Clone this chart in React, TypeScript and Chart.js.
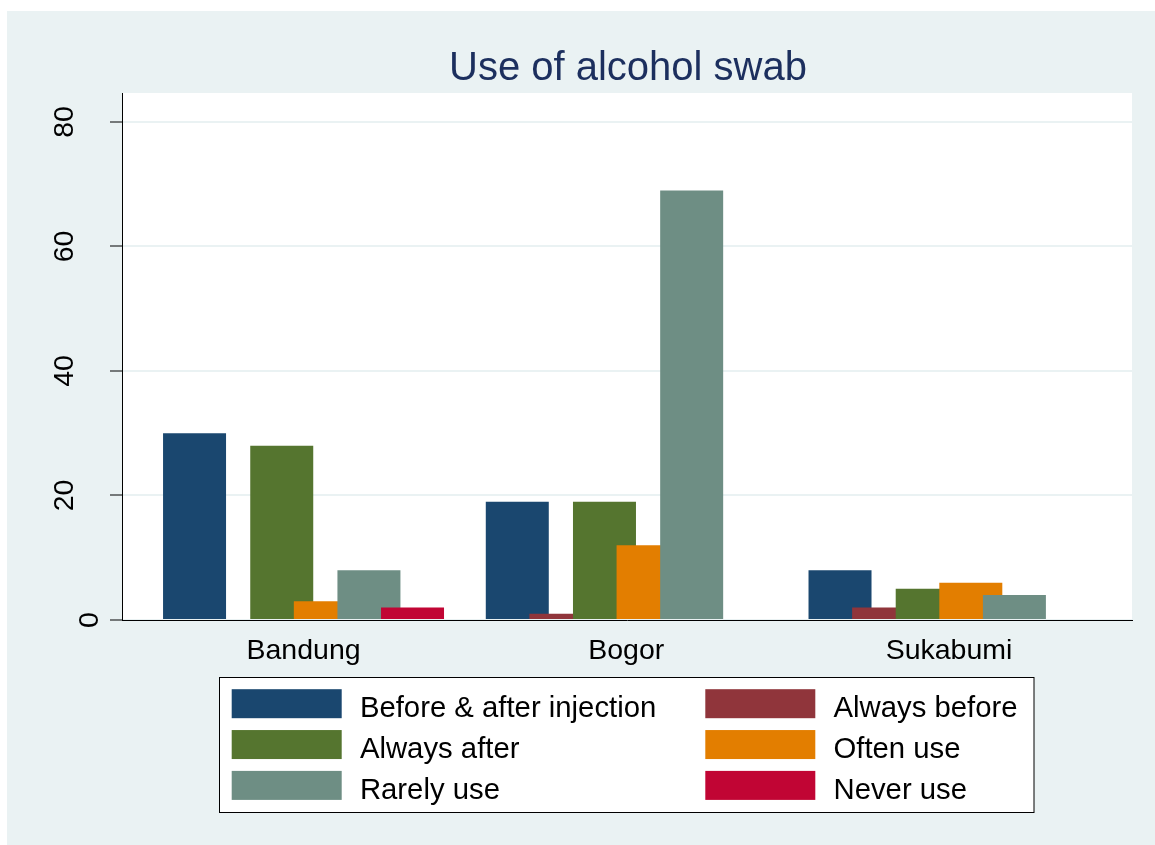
import React, { useEffect, useRef } from "react";
import { Chart, registerables } from "chart.js";

Chart.register(...registerables);

const titleText = "Use of alcohol swab";
const categories = ["Bandung", "Bogor", "Sukabumi"];
const seriesLabels = [
  "Before & after injection",
  "Always before",
  "Always after",
  "Often use",
  "Rarely use",
  "Never use",
];
const beforeAfterInjection = [30, 19, 8];
const alwaysBefore = [0, 1, 2];
const alwaysAfter = [28, 19, 5];
const oftenUse = [3, 12, 6];
const rarelyUse = [8, 69, 4];
const neverUse = [2, 0, 0];
const seriesColors = ["#1a476f", "#90353b", "#55752f", "#e37e00", "#6e8e84", "#c10534"];
const yTicks = [0, 20, 40, 60, 80];

const FONT = '"Liberation Sans", Arial, Helvetica, sans-serif';
const BG = "#eaf2f3";

const stataPlugin = {
  id: "stataLook",
  beforeDraw(chart: any) {
    const { ctx, chartArea: a } = chart;
    ctx.save();
    ctx.fillStyle = "#ffffff";
    ctx.fillRect(a.left, a.top, a.right - a.left, a.bottom - a.top);
    ctx.restore();
  },
  beforeDatasetsDraw(chart: any) {
    // draw in dataset order so later series sit on top of earlier ones
    const { ctx, chartArea: a } = chart;
    ctx.save();
    ctx.beginPath();
    ctx.rect(a.left, a.top, a.right - a.left, a.bottom - a.top);
    ctx.clip();
    for (let i = 0; i < chart.data.datasets.length; i++) {
      const meta = chart.getDatasetMeta(i);
      if (chart.isDatasetVisible(i)) meta.controller.draw();
    }
    ctx.restore();
    return false;
  },
  afterDraw(chart: any) {
    const { ctx, chartArea: a } = chart;
    const yScale = chart.scales.y;
    ctx.save();
    // title
    ctx.font = `40px ${FONT}`;
    ctx.fillStyle = "#1c2f5e";
    ctx.textAlign = "center";
    ctx.textBaseline = "alphabetic";
    ctx.fillText(titleText, (a.left + a.right) / 2 + 1, 69);

    // y tick labels, rotated
    ctx.font = `28.5px ${FONT}`;
    ctx.fillStyle = "#000";
    yTicks.forEach((v) => {
      const label = String(v);
      const py = yScale.getPixelForValue(v);
      const bx = a.left - 49.5 + (2 - label.length) * 25;
      ctx.save();
      ctx.translate(bx, py);
      ctx.rotate(-Math.PI / 2);
      ctx.textAlign = "center";
      ctx.textBaseline = "alphabetic";
      ctx.fillText(label, 0, 0);
      ctx.restore();
    });

    // legend
    const bx = 212.5, by = 666.5, bw = 814.5, bh = 135;
    ctx.fillStyle = "#fff";
    ctx.fillRect(bx, by, bw, bh);
    ctx.strokeStyle = "#000";
    ctx.lineWidth = 1;
    ctx.strokeRect(bx, by, bw, bh);
    ctx.font = `29.3px ${FONT}`;
    ctx.textAlign = "left";
    ctx.textBaseline = "alphabetic";
    chart.data.datasets.forEach((ds: any, i: number) => {
      const col = i % 2;
      const row = Math.floor(i / 2);
      const sx = bx + 12.2 + col * 473.6;
      const sy = by + 11.7 + row * 40.85;
      ctx.fillStyle = ds.backgroundColor;
      ctx.fillRect(sx, sy, 110, 29);
      ctx.fillStyle = "#000";
      ctx.fillText(ds.label, sx + 128.2, sy + 27.7);
    });
    ctx.restore();
  },
};

export default function App() {
  const canvasRef = useRef<HTMLCanvasElement | null>(null);

  useEffect(() => {
    if (!canvasRef.current) return;
    const seriesValues = [beforeAfterInjection, alwaysBefore, alwaysAfter, oftenUse, rarelyUse, neverUse];
    const chart = new Chart(canvasRef.current, {
      type: "bar",
      data: {
        datasets: seriesLabels.map((label, si) => ({
          label,
          data: seriesValues[si].map((v, ci) => ({ x: ci, y: v })),
          backgroundColor: seriesColors[si],
          borderWidth: 0,
          categoryPercentage: 0.8105,
          barPercentage: 1.445,
        })),
      },
      options: {
        animation: false,
        responsive: false,
        devicePixelRatio: 1,
        layout: { padding: { left: 55, right: 23, top: 82, bottom: 165 } },
        plugins: {
          legend: { display: false },
          title: { display: false },
          tooltip: { enabled: false },
        },
        scales: {
          x: {
            type: "linear",
            offset: false,
            min: -0.5625,
            max: 2.567,
            z: 1,
            afterBuildTicks: (s: any) => {
              s.ticks = categories.map((_, i) => ({ value: i }));
            },
            afterFit: (s: any) => {
              s.height = 60;
            },
            grid: { display: false, drawTicks: false, offset: false },
            border: { display: true, color: "#000", width: 1 },
            ticks: {
              callback: (v: any) => categories[v as number],
              font: { family: FONT, size: 28.5 },
              color: "#000",
              padding: 14,
              autoSkip: false,
              maxRotation: 0,
              minRotation: 0,
            },
          },
          y: {
            type: "linear",
            min: 0,
            max: 84.65,
            afterBuildTicks: (s: any) => {
              s.ticks = yTicks.map((v) => ({ value: v }));
            },
            afterFit: (s: any) => {
              s.width = 60;
            },
            grid: {
              color: BG,
              lineWidth: 2,
              drawTicks: true,
              tickColor: "#000",
              tickWidth: 1,
              tickLength: 12,
            },
            border: { display: true, color: "#000", width: 1 },
            ticks: { display: false },
          },
        },
      } as any,
      plugins: [stataPlugin as any],
    });
    return () => chart.destroy();
  }, []);

  return (
    <div
      style={{
        position: "absolute",
        left: 7,
        top: 11,
        width: 1148,
        height: 834,
        background: BG,
      }}
    >
      <canvas ref={canvasRef} width={1148} height={834} style={{ display: "block" }} />
    </div>
  );
}
